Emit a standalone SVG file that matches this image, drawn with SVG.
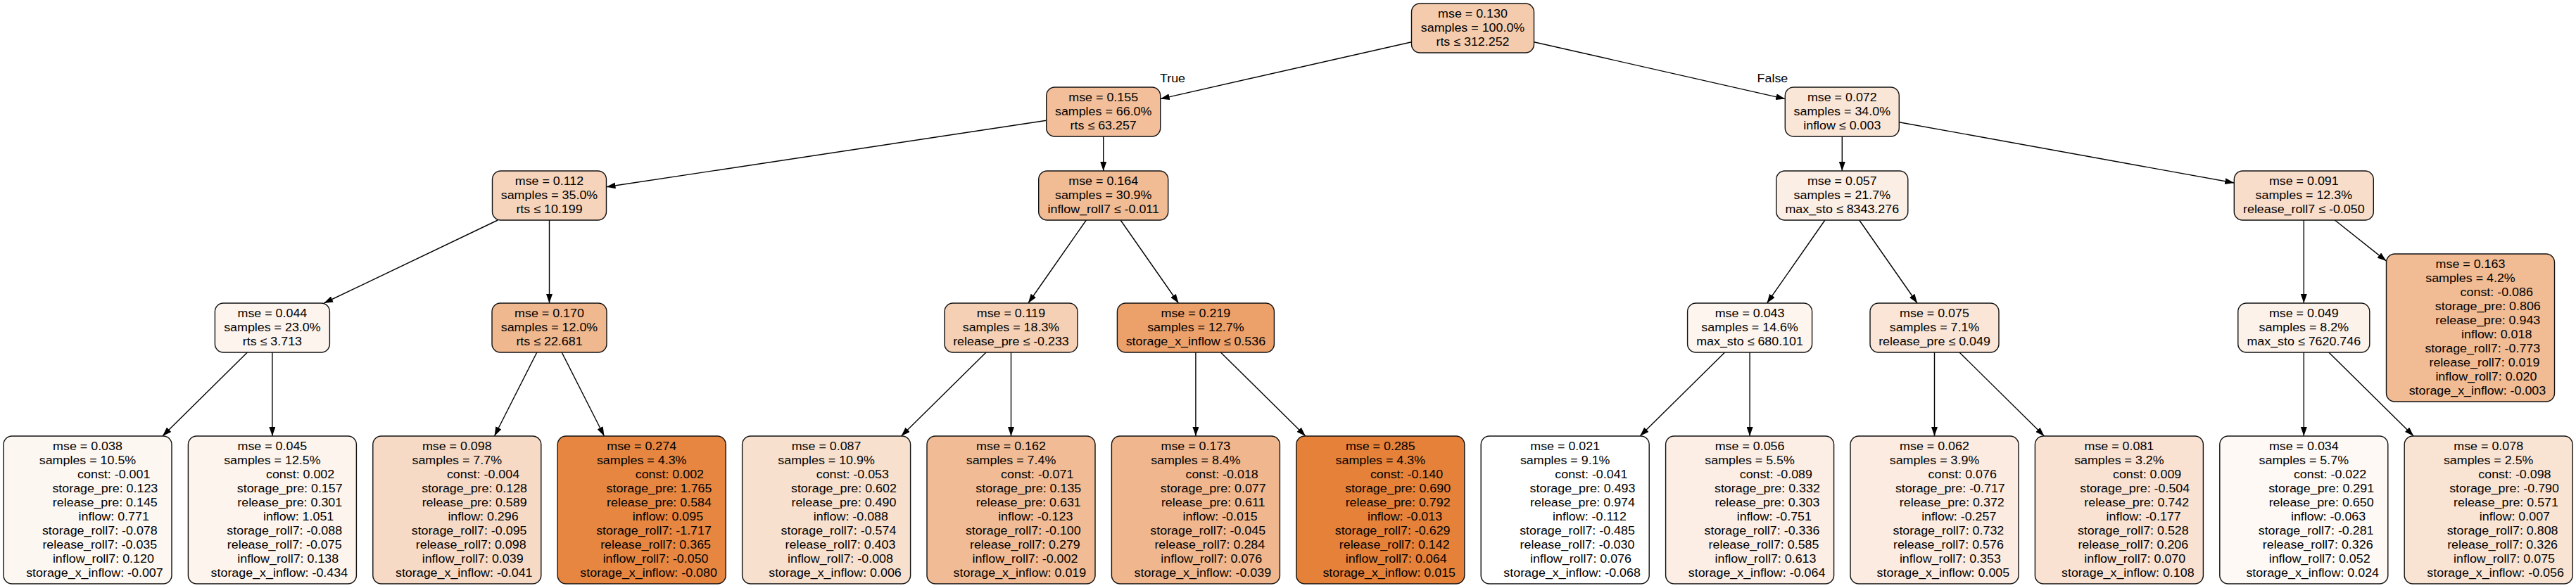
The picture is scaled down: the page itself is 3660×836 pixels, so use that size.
<svg xmlns="http://www.w3.org/2000/svg" width="3660" height="836" viewBox="0 0 3660 836">
<style>
text{font-family:"Liberation Sans",Arial,Helvetica,sans-serif;font-size:16.7px;fill:#000;text-anchor:middle}
.nd rect{stroke:#111;stroke-width:1.4}
#edges line{stroke:#000;stroke-width:1.4;marker-end:url(#ah)}
</style>
<defs>
<marker id="ah" markerUnits="userSpaceOnUse" markerWidth="13" markerHeight="9" refX="13" refY="4.5" orient="auto"><path d="M0,0L13,4.5L0,9z" fill="#000"/></marker>
</defs>
<rect width="3660" height="836" fill="#fff"/>
<g id="edges">
<line x1="2005.5" y1="59.7" x2="1648.7" y2="140.6"/>
<line x1="2179.5" y1="59.7" x2="2536.3" y2="140.6"/>
<line x1="1486.7" y1="171.2" x2="861.5" y2="265.8"/>
<line x1="1567.7" y1="194" x2="1567.7" y2="243"/>
<line x1="2617.3" y1="194" x2="2617.3" y2="243"/>
<line x1="2698.3" y1="173.7" x2="3174.3" y2="260"/>
<line x1="707.2" y1="313" x2="460.2" y2="431"/>
<line x1="780.5" y1="313" x2="780.5" y2="431"/>
<line x1="1543.3" y1="313" x2="1460.9" y2="431"/>
<line x1="1592.1" y1="313" x2="1674.5" y2="431"/>
<line x1="2592.9" y1="313" x2="2510.5" y2="431"/>
<line x1="2641.7" y1="313" x2="2724.1" y2="431"/>
<line x1="3273.3" y1="313" x2="3273.3" y2="431"/>
<line x1="3317.4" y1="313" x2="3390.5" y2="371.1"/>
<line x1="351.4" y1="501" x2="230.9" y2="620"/>
<line x1="386.9" y1="501" x2="386.9" y2="620"/>
<line x1="762.8" y1="501" x2="702.5" y2="620"/>
<line x1="798.2" y1="501" x2="858.5" y2="620"/>
<line x1="1401" y1="501" x2="1280.5" y2="620"/>
<line x1="1436.5" y1="501" x2="1436.5" y2="620"/>
<line x1="1698.9" y1="501" x2="1698.9" y2="620"/>
<line x1="1734.4" y1="501" x2="1854.9" y2="620"/>
<line x1="2450.6" y1="501" x2="2330.1" y2="620"/>
<line x1="2486.1" y1="501" x2="2486.1" y2="620"/>
<line x1="2748.5" y1="501" x2="2748.5" y2="620"/>
<line x1="2784" y1="501" x2="2904.5" y2="620"/>
<line x1="3273.3" y1="501" x2="3273.3" y2="620"/>
<line x1="3308.8" y1="501" x2="3429.3" y2="620"/>
<g transform="scale(1.07,1)"><text x="1557" y="117">True</text><text x="2353.7" y="117">False</text></g>
</g>

<g id="n_root" class="nd"><rect x="2005.5" y="5" width="174" height="70" rx="12" fill="#f4cbad"/>
<g transform="scale(1.07,1)"><text x="1955.61" y="25">mse = 0.130</text><text x="1955.61" y="45">samples = 100.0%</text><text x="1955.61" y="65">rts ≤ 312.252</text></g></g>

<g id="n_155" class="nd"><rect x="1486.7" y="124" width="162" height="70" rx="12" fill="#f2bf9a"/>
<g transform="scale(1.07,1)"><text x="1465.14" y="144">mse = 0.155</text><text x="1465.14" y="164">samples = 66.0%</text><text x="1465.14" y="184">rts ≤ 63.257</text></g></g>

<g id="n_072" class="nd"><rect x="2536.3" y="124" width="162" height="70" rx="12" fill="#fae6d7"/>
<g transform="scale(1.07,1)"><text x="2446.07" y="144">mse = 0.072</text><text x="2446.07" y="164">samples = 34.0%</text><text x="2446.07" y="184">inflow ≤ 0.003</text></g></g>

<g id="n_112" class="nd"><rect x="699.5" y="243" width="162" height="70" rx="12" fill="#f6d4bb"/>
<g transform="scale(1.07,1)"><text x="729.44" y="263">mse = 0.112</text><text x="729.44" y="283">samples = 35.0%</text><text x="729.44" y="303">rts ≤ 10.199</text></g></g>

<g id="n_164" class="nd"><rect x="1475.7" y="243" width="184" height="70" rx="12" fill="#f1bb94"/>
<g transform="scale(1.07,1)"><text x="1465.14" y="263">mse = 0.164</text><text x="1465.14" y="283">samples = 30.9%</text><text x="1465.14" y="303">inflow_roll7 ≤ -0.011</text></g></g>

<g id="n_057" class="nd"><rect x="2523.8" y="243" width="187" height="70" rx="12" fill="#fbeee4"/>
<g transform="scale(1.07,1)"><text x="2446.07" y="263">mse = 0.057</text><text x="2446.07" y="283">samples = 21.7%</text><text x="2446.07" y="303">max_sto ≤ 8343.276</text></g></g>

<g id="n_091" class="nd"><rect x="3174.3" y="243" width="198" height="70" rx="12" fill="#f8ddca"/>
<g transform="scale(1.07,1)"><text x="3059.16" y="263">mse = 0.091</text><text x="3059.16" y="283">samples = 12.3%</text><text x="3059.16" y="303">release_roll7 ≤ -0.050</text></g></g>

<g id="n_044" class="nd"><rect x="305.4" y="431" width="163" height="70" rx="12" fill="#fdf4ee"/>
<g transform="scale(1.07,1)"><text x="361.59" y="451">mse = 0.044</text><text x="361.59" y="471">samples = 23.0%</text><text x="361.59" y="491">rts ≤ 3.713</text></g></g>

<g id="n_170" class="nd"><rect x="699" y="431" width="163" height="70" rx="12" fill="#f0b88f"/>
<g transform="scale(1.07,1)"><text x="729.44" y="451">mse = 0.170</text><text x="729.44" y="471">samples = 12.0%</text><text x="729.44" y="491">rts ≤ 22.681</text></g></g>

<g id="n_119" class="nd"><rect x="1342" y="431" width="189" height="70" rx="12" fill="#f5d0b5"/>
<g transform="scale(1.07,1)"><text x="1342.52" y="451">mse = 0.119</text><text x="1342.52" y="471">samples = 18.3%</text><text x="1342.52" y="491">release_pre ≤ -0.233</text></g></g>

<g id="n_219" class="nd"><rect x="1587.4" y="431" width="223" height="70" rx="12" fill="#eca06a"/>
<g transform="scale(1.07,1)"><text x="1587.76" y="451">mse = 0.219</text><text x="1587.76" y="471">samples = 12.7%</text><text x="1587.76" y="491">storage_x_inflow ≤ 0.536</text></g></g>

<g id="n_043" class="nd"><rect x="2397.6" y="431" width="177" height="70" rx="12" fill="#fdf5ee"/>
<g transform="scale(1.07,1)"><text x="2323.46" y="451">mse = 0.043</text><text x="2323.46" y="471">samples = 14.6%</text><text x="2323.46" y="491">max_sto ≤ 680.101</text></g></g>

<g id="n_075" class="nd"><rect x="2657" y="431" width="183" height="70" rx="12" fill="#fae5d6"/>
<g transform="scale(1.07,1)"><text x="2568.69" y="451">mse = 0.075</text><text x="2568.69" y="471">samples = 7.1%</text><text x="2568.69" y="491">release_pre ≤ 0.049</text></g></g>

<g id="n_049" class="nd"><rect x="3179.8" y="431" width="187" height="70" rx="12" fill="#fcf2ea"/>
<g transform="scale(1.07,1)"><text x="3059.16" y="451">mse = 0.049</text><text x="3059.16" y="471">samples = 8.2%</text><text x="3059.16" y="491">max_sto ≤ 7620.746</text></g></g>

<g id="n_163" class="nd"><rect x="3390.5" y="361" width="239" height="210" rx="12" fill="#f1bb94"/>
<g transform="scale(1.07,1)"><text x="3280.37" y="381">mse = 0.163</text><text x="3280.37" y="401">samples = 4.2%</text><text x="3280.37" dx="34.8" y="421">const: -0.086</text><text x="3280.37" dx="23.2" y="441">storage_pre: 0.806</text><text x="3280.37" dx="23.2" y="461">release_pre: 0.943</text><text x="3280.37" dx="34.8" y="481">inflow: 0.018</text><text x="3280.37" dx="16.2" y="501">storage_roll7: -0.773</text><text x="3280.37" dx="18.6" y="521">release_roll7: 0.019</text><text x="3280.37" dx="20.9" y="541">inflow_roll7: 0.020</text><text x="3280.37" dx="9.3" y="561">storage_x_inflow: -0.003</text></g></g>

<g id="leaf_01" class="nd"><rect x="5" y="620" width="239" height="210" rx="12" fill="#fdf7f2"/>
<g transform="scale(1.07,1)"><text x="116.36" y="640">mse = 0.038</text><text x="116.36" y="660">samples = 10.5%</text><text x="116.36" dx="34.8" y="680">const: -0.001</text><text x="116.36" dx="23.2" y="700">storage_pre: 0.123</text><text x="116.36" dx="23.2" y="720">release_pre: 0.145</text><text x="116.36" dx="34.8" y="740">inflow: 0.771</text><text x="116.36" dx="16.2" y="760">storage_roll7: -0.078</text><text x="116.36" dx="16.2" y="780">release_roll7: -0.035</text><text x="116.36" dx="20.9" y="800">inflow_roll7: 0.120</text><text x="116.36" dx="9.3" y="820">storage_x_inflow: -0.007</text></g></g>

<g id="leaf_02" class="nd"><rect x="267.4" y="620" width="239" height="210" rx="12" fill="#fdf4ed"/>
<g transform="scale(1.07,1)"><text x="361.59" y="640">mse = 0.045</text><text x="361.59" y="660">samples = 12.5%</text><text x="361.59" dx="37.1" y="680">const: 0.002</text><text x="361.59" dx="23.2" y="700">storage_pre: 0.157</text><text x="361.59" dx="23.2" y="720">release_pre: 0.301</text><text x="361.59" dx="34.8" y="740">inflow: 1.051</text><text x="361.59" dx="16.2" y="760">storage_roll7: -0.088</text><text x="361.59" dx="16.2" y="780">release_roll7: -0.075</text><text x="361.59" dx="20.9" y="800">inflow_roll7: 0.138</text><text x="361.59" dx="9.3" y="820">storage_x_inflow: -0.434</text></g></g>

<g id="leaf_03" class="nd"><rect x="529.8" y="620" width="239" height="210" rx="12" fill="#f7dac5"/>
<g transform="scale(1.07,1)"><text x="606.82" y="640">mse = 0.098</text><text x="606.82" y="660">samples = 7.7%</text><text x="606.82" dx="34.8" y="680">const: -0.004</text><text x="606.82" dx="23.2" y="700">storage_pre: 0.128</text><text x="606.82" dx="23.2" y="720">release_pre: 0.589</text><text x="606.82" dx="34.8" y="740">inflow: 0.296</text><text x="606.82" dx="16.2" y="760">storage_roll7: -0.095</text><text x="606.82" dx="18.6" y="780">release_roll7: 0.098</text><text x="606.82" dx="20.9" y="800">inflow_roll7: 0.039</text><text x="606.82" dx="9.3" y="820">storage_x_inflow: -0.041</text></g></g>

<g id="leaf_04" class="nd"><rect x="792.2" y="620" width="239" height="210" rx="12" fill="#e68641"/>
<g transform="scale(1.07,1)"><text x="852.06" y="640">mse = 0.274</text><text x="852.06" y="660">samples = 4.3%</text><text x="852.06" dx="37.1" y="680">const: 0.002</text><text x="852.06" dx="23.2" y="700">storage_pre: 1.765</text><text x="852.06" dx="23.2" y="720">release_pre: 0.584</text><text x="852.06" dx="34.8" y="740">inflow: 0.095</text><text x="852.06" dx="16.2" y="760">storage_roll7: -1.717</text><text x="852.06" dx="18.6" y="780">release_roll7: 0.365</text><text x="852.06" dx="18.6" y="800">inflow_roll7: -0.050</text><text x="852.06" dx="9.3" y="820">storage_x_inflow: -0.080</text></g></g>

<g id="leaf_05" class="nd"><rect x="1054.6" y="620" width="239" height="210" rx="12" fill="#f8e0ce"/>
<g transform="scale(1.07,1)"><text x="1097.29" y="640">mse = 0.087</text><text x="1097.29" y="660">samples = 10.9%</text><text x="1097.29" dx="34.8" y="680">const: -0.053</text><text x="1097.29" dx="23.2" y="700">storage_pre: 0.602</text><text x="1097.29" dx="23.2" y="720">release_pre: 0.490</text><text x="1097.29" dx="32.5" y="740">inflow: -0.088</text><text x="1097.29" dx="16.2" y="760">storage_roll7: -0.574</text><text x="1097.29" dx="18.6" y="780">release_roll7: 0.403</text><text x="1097.29" dx="18.6" y="800">inflow_roll7: -0.008</text><text x="1097.29" dx="11.6" y="820">storage_x_inflow: 0.006</text></g></g>

<g id="leaf_06" class="nd"><rect x="1317" y="620" width="239" height="210" rx="12" fill="#f1bc95"/>
<g transform="scale(1.07,1)"><text x="1342.52" y="640">mse = 0.162</text><text x="1342.52" y="660">samples = 7.4%</text><text x="1342.52" dx="34.8" y="680">const: -0.071</text><text x="1342.52" dx="23.2" y="700">storage_pre: 0.135</text><text x="1342.52" dx="23.2" y="720">release_pre: 0.631</text><text x="1342.52" dx="32.5" y="740">inflow: -0.123</text><text x="1342.52" dx="16.2" y="760">storage_roll7: -0.100</text><text x="1342.52" dx="18.6" y="780">release_roll7: 0.279</text><text x="1342.52" dx="18.6" y="800">inflow_roll7: -0.002</text><text x="1342.52" dx="11.6" y="820">storage_x_inflow: 0.019</text></g></g>

<g id="leaf_07" class="nd"><rect x="1579.4" y="620" width="239" height="210" rx="12" fill="#f0b68d"/>
<g transform="scale(1.07,1)"><text x="1587.76" y="640">mse = 0.173</text><text x="1587.76" y="660">samples = 8.4%</text><text x="1587.76" dx="34.8" y="680">const: -0.018</text><text x="1587.76" dx="23.2" y="700">storage_pre: 0.077</text><text x="1587.76" dx="23.2" y="720">release_pre: 0.611</text><text x="1587.76" dx="32.5" y="740">inflow: -0.015</text><text x="1587.76" dx="16.2" y="760">storage_roll7: -0.045</text><text x="1587.76" dx="18.6" y="780">release_roll7: 0.284</text><text x="1587.76" dx="20.9" y="800">inflow_roll7: 0.076</text><text x="1587.76" dx="9.3" y="820">storage_x_inflow: -0.039</text></g></g>

<g id="leaf_08" class="nd"><rect x="1841.8" y="620" width="239" height="210" rx="12" fill="#e58139"/>
<g transform="scale(1.07,1)"><text x="1832.99" y="640">mse = 0.285</text><text x="1832.99" y="660">samples = 4.3%</text><text x="1832.99" dx="34.8" y="680">const: -0.140</text><text x="1832.99" dx="23.2" y="700">storage_pre: 0.690</text><text x="1832.99" dx="23.2" y="720">release_pre: 0.792</text><text x="1832.99" dx="32.5" y="740">inflow: -0.013</text><text x="1832.99" dx="16.2" y="760">storage_roll7: -0.629</text><text x="1832.99" dx="18.6" y="780">release_roll7: 0.142</text><text x="1832.99" dx="20.9" y="800">inflow_roll7: 0.064</text><text x="1832.99" dx="11.6" y="820">storage_x_inflow: 0.015</text></g></g>

<g id="leaf_09" class="nd"><rect x="2104.2" y="620" width="239" height="210" rx="12" fill="#ffffff"/>
<g transform="scale(1.07,1)"><text x="2078.22" y="640">mse = 0.021</text><text x="2078.22" y="660">samples = 9.1%</text><text x="2078.22" dx="34.8" y="680">const: -0.041</text><text x="2078.22" dx="23.2" y="700">storage_pre: 0.493</text><text x="2078.22" dx="23.2" y="720">release_pre: 0.974</text><text x="2078.22" dx="32.5" y="740">inflow: -0.112</text><text x="2078.22" dx="16.2" y="760">storage_roll7: -0.485</text><text x="2078.22" dx="16.2" y="780">release_roll7: -0.030</text><text x="2078.22" dx="20.9" y="800">inflow_roll7: 0.076</text><text x="2078.22" dx="9.3" y="820">storage_x_inflow: -0.068</text></g></g>

<g id="leaf_10" class="nd"><rect x="2366.6" y="620" width="239" height="210" rx="12" fill="#fceee5"/>
<g transform="scale(1.07,1)"><text x="2323.46" y="640">mse = 0.056</text><text x="2323.46" y="660">samples = 5.5%</text><text x="2323.46" dx="34.8" y="680">const: -0.089</text><text x="2323.46" dx="23.2" y="700">storage_pre: 0.332</text><text x="2323.46" dx="23.2" y="720">release_pre: 0.303</text><text x="2323.46" dx="32.5" y="740">inflow: -0.751</text><text x="2323.46" dx="16.2" y="760">storage_roll7: -0.336</text><text x="2323.46" dx="18.6" y="780">release_roll7: 0.585</text><text x="2323.46" dx="20.9" y="800">inflow_roll7: 0.613</text><text x="2323.46" dx="9.3" y="820">storage_x_inflow: -0.064</text></g></g>

<g id="leaf_11" class="nd"><rect x="2629" y="620" width="239" height="210" rx="12" fill="#fbebe0"/>
<g transform="scale(1.07,1)"><text x="2568.69" y="640">mse = 0.062</text><text x="2568.69" y="660">samples = 3.9%</text><text x="2568.69" dx="37.1" y="680">const: 0.076</text><text x="2568.69" dx="20.9" y="700">storage_pre: -0.717</text><text x="2568.69" dx="23.2" y="720">release_pre: 0.372</text><text x="2568.69" dx="32.5" y="740">inflow: -0.257</text><text x="2568.69" dx="18.6" y="760">storage_roll7: 0.732</text><text x="2568.69" dx="18.6" y="780">release_roll7: 0.576</text><text x="2568.69" dx="20.9" y="800">inflow_roll7: 0.353</text><text x="2568.69" dx="11.6" y="820">storage_x_inflow: 0.005</text></g></g>

<g id="leaf_12" class="nd"><rect x="2891.4" y="620" width="239" height="210" rx="12" fill="#f9e2d2"/>
<g transform="scale(1.07,1)"><text x="2813.93" y="640">mse = 0.081</text><text x="2813.93" y="660">samples = 3.2%</text><text x="2813.93" dx="37.1" y="680">const: 0.009</text><text x="2813.93" dx="20.9" y="700">storage_pre: -0.504</text><text x="2813.93" dx="23.2" y="720">release_pre: 0.742</text><text x="2813.93" dx="32.5" y="740">inflow: -0.177</text><text x="2813.93" dx="18.6" y="760">storage_roll7: 0.528</text><text x="2813.93" dx="18.6" y="780">release_roll7: 0.206</text><text x="2813.93" dx="20.9" y="800">inflow_roll7: 0.070</text><text x="2813.93" dx="11.6" y="820">storage_x_inflow: 0.108</text></g></g>

<g id="leaf_13" class="nd"><rect x="3153.8" y="620" width="239" height="210" rx="12" fill="#fef9f5"/>
<g transform="scale(1.07,1)"><text x="3059.16" y="640">mse = 0.034</text><text x="3059.16" y="660">samples = 5.7%</text><text x="3059.16" dx="34.8" y="680">const: -0.022</text><text x="3059.16" dx="23.2" y="700">storage_pre: 0.291</text><text x="3059.16" dx="23.2" y="720">release_pre: 0.650</text><text x="3059.16" dx="32.5" y="740">inflow: -0.063</text><text x="3059.16" dx="16.2" y="760">storage_roll7: -0.281</text><text x="3059.16" dx="18.6" y="780">release_roll7: 0.326</text><text x="3059.16" dx="20.9" y="800">inflow_roll7: 0.052</text><text x="3059.16" dx="11.6" y="820">storage_x_inflow: 0.024</text></g></g>

<g id="leaf_14" class="nd"><rect x="3416.2" y="620" width="239" height="210" rx="12" fill="#f9e4d4"/>
<g transform="scale(1.07,1)"><text x="3304.39" y="640">mse = 0.078</text><text x="3304.39" y="660">samples = 2.5%</text><text x="3304.39" dx="34.8" y="680">const: -0.098</text><text x="3304.39" dx="20.9" y="700">storage_pre: -0.790</text><text x="3304.39" dx="23.2" y="720">release_pre: 0.571</text><text x="3304.39" dx="34.8" y="740">inflow: 0.007</text><text x="3304.39" dx="18.6" y="760">storage_roll7: 0.808</text><text x="3304.39" dx="18.6" y="780">release_roll7: 0.326</text><text x="3304.39" dx="20.9" y="800">inflow_roll7: 0.075</text><text x="3304.39" dx="9.3" y="820">storage_x_inflow: -0.056</text></g></g>
</svg>
